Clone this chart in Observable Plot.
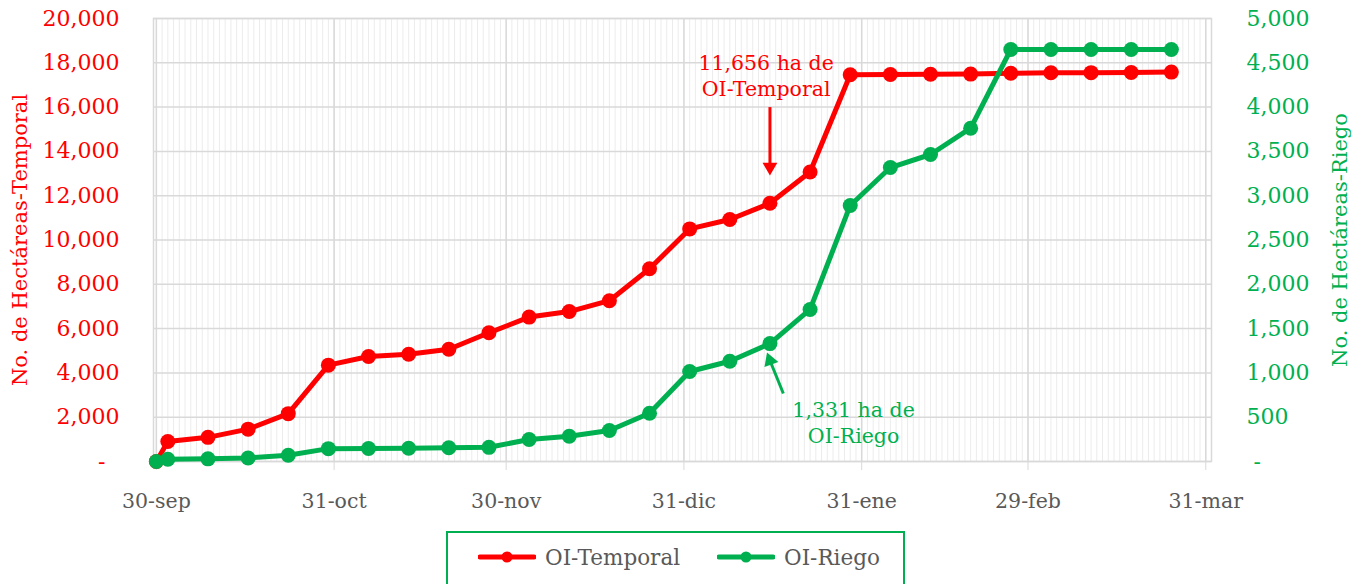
<!DOCTYPE html>
<html><head><meta charset="utf-8">
<script src="https://cdn.jsdelivr.net/npm/d3@7"></script>
<script src="https://cdn.jsdelivr.net/npm/@observablehq/plot@0.6"></script>
<style>
body{margin:0;background:#fff;font-family:"DejaVu Serif",serif;}
#wrap{position:relative;width:1359px;height:584px;overflow:hidden;}
#legend{position:absolute;left:446px;top:531px;width:459px;height:70px;border:2px solid #00b050;box-sizing:border-box;}
.item{position:absolute;top:12px;height:24px;display:flex;align-items:center;font-size:21.5px;color:#595959;}
.item svg{margin-right:9px;}
</style></head>
<body><div id="wrap"><div id="chart"></div>
<div id="legend">
  <div class="item" style="left:30px"><svg width="58" height="14"><line x1="2" x2="56" y1="7" y2="7" stroke="#ff0000" stroke-width="5" stroke-linecap="round"/><circle cx="29" cy="7" r="5.5" fill="#ff0000"/></svg><span>OI-Temporal</span></div>
  <div class="item" style="left:269px"><svg width="58" height="14"><line x1="2" x2="56" y1="7" y2="7" stroke="#00b050" stroke-width="5" stroke-linecap="round"/><circle cx="29" cy="7" r="5.5" fill="#00b050"/></svg><span>OI-Riego</span></div>
</div></div>
<script>
const dates = ["2019-09-30","2019-10-02","2019-10-09","2019-10-16","2019-10-23","2019-10-30","2019-11-06","2019-11-13","2019-11-20","2019-11-27","2019-12-04","2019-12-11","2019-12-18","2019-12-25","2020-01-01","2020-01-08","2020-01-15","2020-01-22","2020-01-29","2020-02-05","2020-02-12","2020-02-19","2020-02-26","2020-03-04","2020-03-11","2020-03-18","2020-03-25"];
const temporal = [0,900,1090,1460,2160,4350,4740,4840,5070,5810,6520,6770,7260,8700,10500,10925,11656,13070,17460,17470,17480,17490,17530,17550,17555,17560,17580];
const riego = [0,25,30,40,70,145,147,150,155,160,248,285,350,545,1016,1132,1331,1716,2890,3318,3465,3762,4650,4650,4650,4650,4650];
const monthTicks = ["2019-09-30","2019-10-31","2019-11-30","2019-12-31","2020-01-31","2020-02-29","2020-03-31"];
const monthNames = ["ene","feb","mar","abr","may","jun","jul","ago","sep","oct","nov","dic"];
const leftTicks = [0,2000,4000,6000,8000,10000,12000,14000,16000,18000,20000];
const rightTicks = [0,500,1000,1500,2000,2500,3000,3500,4000,4500,5000];
const leftTitle = "No. de Hectáreas-Temporal";
const rightTitle = "No. de Hectáreas-Riego";
// annotations (x as date, y in left-axis units)
const noteText = ["11,656 ha de\nOI-Temporal","1,331 ha de\nOI-Riego"];
const noteX = ["2020-01-14T08:00","2020-01-29T14:00"];
const noteY = [17450,1800];
const noteColor = ["#ff0000","#00b050"];
const arrowX1 = ["2020-01-15","2020-01-17T08:00"];
const arrowY1 = [16000,3070];
const arrowX2 = ["2020-01-15","2020-01-15T00:00"];
const arrowY2 = [13300,4560];
const arrowRotate = [180,-20];

const ratio = 20000/5000;
const D = s => new Date(s);
const rowsT = dates.map((d,i)=>({date:D(d), v:temporal[i]}));
const rowsR = dates.map((d,i)=>({date:D(d), v:riego[i]*ratio}));
const notes = noteText.map((t,i)=>({t, x:D(noteX[i]), y:noteY[i], c:noteColor[i]}));
const arrows = arrowX1.map((x,i)=>({x1:D(x), y1:arrowY1[i], x2:D(arrowX2[i]), y2:arrowY2[i], c:noteColor[i], r:arrowRotate[i]}));
const days = d3.utcDay.range(D("2019-09-30"), D("2020-04-01"));
const fmtX = d => `${d.getUTCDate()}-${monthNames[d.getUTCMonth()]}`;
const fmtL = d => d===0 ? "-\u00A0\u00A0" : d3.format(",")(d);
const fmtR = d => d===0 ? "\u00A0-" : d3.format(",")(d/ratio);

const chart = Plot.plot({
  width:1359, height:530,
  marginLeft:153, marginRight:148, marginTop:18, marginBottom:69,
  style:{fontFamily:"DejaVu Serif, serif", fontSize:"20px", background:"#fff"},
  x:{type:"utc", domain:[D("2019-09-29T12:00"), D("2020-04-01")]},
  y:{domain:[0,20000]},
  marks:[
    Plot.gridX(days, {stroke:"#ececec", strokeOpacity:1, strokeWidth:1}),
    Plot.gridX(monthTicks.map(D), {stroke:"#d9d9d9", strokeOpacity:1, strokeWidth:1.5}),
    Plot.gridY(leftTicks, {stroke:"#d9d9d9", strokeOpacity:1, strokeWidth:1.5}),
    Plot.frame({stroke:"#d9d9d9", strokeWidth:1.5}),
    Plot.axisX(monthTicks.map(D), {tickSize:9, tickPadding:23, tickFormat:fmtX, stroke:"#d9d9d9", fill:"#595959", fontSize:20.5, label:null}),
    Plot.axisY(leftTicks, {anchor:"left", tickSize:0, tickPadding:34, tickFormat:fmtL, fill:"#ff0000", fontSize:22, label:null}),
    Plot.axisY(rightTicks.map(v=>v*ratio), {anchor:"right", tickSize:0, tickPadding:35, tickFormat:fmtR, fill:"#00b050", fontSize:22, label:null}),
    Plot.text([leftTitle], {frameAnchor:"left", dx:-133, rotate:-90, textAnchor:"middle", fill:"#ff0000", fontSize:21}),
    Plot.text([rightTitle], {frameAnchor:"right", dx:129, rotate:-90, textAnchor:"middle", fill:"#00b050", fontSize:21}),
    Plot.line(rowsT, {x:"date", y:"v", stroke:"#ff0000", strokeWidth:5}),
    Plot.dot(rowsT, {x:"date", y:"v", fill:"#ff0000", r:7.5}),
    Plot.line(rowsR, {x:"date", y:"v", stroke:"#00b050", strokeWidth:5}),
    Plot.dot(rowsR, {x:"date", y:"v", fill:"#00b050", r:7.5}),
    Plot.link(arrows, {x1:"x1", y1:"y1", x2:"x2", y2:"y2", stroke:"c", strokeWidth:3}),
    Plot.dot(arrows, {x:"x2", y:"y2", symbol:"triangle", rotate:"r", r:5.5, fill:"c", stroke:"none"}),
    Plot.text(notes, {x:"x", y:"y", text:"t", fill:"c", fontSize:20.5, lineHeight:1.25})
  ]
});
document.getElementById("chart").appendChild(chart);
</script>
</body></html>
